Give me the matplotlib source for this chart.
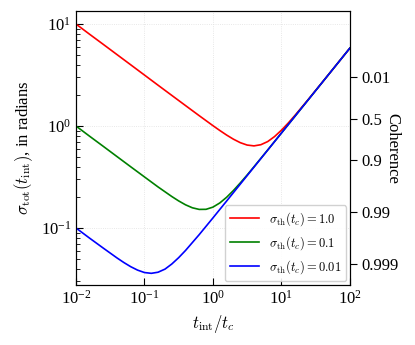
import numpy as np
import matplotlib
matplotlib.use("Agg")
import matplotlib.pyplot as plt

plt.rcParams["font.family"] = "serif"
plt.rcParams["font.serif"] = ["Liberation Serif", "DejaVu Serif"]
plt.rcParams["mathtext.fontset"] = "cm"

# values (x = t_int / t_c)
t_red = [0.01, 0.0158, 0.0251, 0.0398, 0.0631, 0.1, 0.158, 0.251, 0.398, 0.631,
         1.0, 1.259, 1.585, 1.995, 2.512, 3.162, 3.981, 5.012, 6.31, 7.943,
         10.0, 12.59, 15.85, 25.12, 39.81, 63.1, 100.0]
sig_red = [10.0, 7.94, 6.31, 5.01, 3.98, 3.16, 2.512, 1.995, 1.586, 1.262,
           1.008, 0.904, 0.815, 0.742, 0.686, 0.650, 0.638, 0.655, 0.703, 0.787,
           0.908, 1.068, 1.274, 1.844, 2.695, 3.952, 5.797]

t_green = [0.01, 0.0158, 0.0251, 0.0398, 0.0631, 0.1, 0.158, 0.251, 0.316, 0.398,
           0.501, 0.631, 0.794, 1.0, 1.259, 1.585, 1.995, 2.512, 3.162, 3.981,
           6.31, 10.0, 15.85, 25.12, 39.81, 63.1, 100.0]
sig_green = [1.0, 0.794, 0.631, 0.501, 0.398, 0.3168, 0.2526, 0.2034, 0.1842, 0.1687,
             0.1577, 0.1520, 0.1523, 0.160, 0.1757, 0.1998, 0.233, 0.2764, 0.3304, 0.3981,
             0.581, 0.8515, 1.249, 1.833, 2.691, 3.950, 5.797]

t_blue = [0.01, 0.0158, 0.0251, 0.0398, 0.0501, 0.0631, 0.0794, 0.1, 0.126, 0.158,
          0.2, 0.251, 0.316, 0.398, 0.631, 1.0, 1.585, 2.512, 3.981, 6.31,
          10.0, 15.85, 25.12, 39.81, 63.1, 100.0]
sig_blue = [0.1000, 0.0795, 0.0634, 0.0508, 0.0458, 0.0417, 0.0386, 0.03655, 0.0359, 0.0368,
            0.0395, 0.0443, 0.0511, 0.0601, 0.0860, 0.1253, 0.1835, 0.2691, 0.3950, 0.5797,
            0.8509, 1.249, 1.833, 2.691, 3.950, 5.797]

labels = [r"$\sigma_{\rm th}(t_c) = 1.0$", r"$\sigma_{\rm th}(t_c) = 0.1$",
          r"$\sigma_{\rm th}(t_c) = 0.01$"]

coherence_ticks = [0.01, 0.5, 0.9, 0.99, 0.999]
coherence_labels = ["0.01", "0.5", "0.9", "0.99", "0.999"]

fig = plt.figure(figsize=(4.15, 3.45), dpi=100)
ax = fig.add_axes([0.183, 0.174, 0.660, 0.794])

ax.loglog(t_red, sig_red, color="red", lw=1.2, label=labels[0])
ax.loglog(t_green, sig_green, color="green", lw=1.2, label=labels[1])
ax.loglog(t_blue, sig_blue, color="blue", lw=1.2, label=labels[2])

ax.set_xlim(1e-2, 1e2)
ax.set_ylim(0.0276, 13.4)
ax.grid(True, which="major", color="0.88", lw=0.6, ls=":")
ax.tick_params(which="both", direction="in", labelsize=12)
ax.tick_params(which="major", length=5)
ax.tick_params(which="minor", length=3)
ax.set_xlabel(r"$t_{\rm int}/t_c$", fontsize=12)
ax.set_ylabel(r"$\sigma_{\rm tot}(t_{\rm int})$, in radians", fontsize=12)
ax.legend(loc="lower right", fontsize=9, framealpha=0.9, edgecolor="0.8",
          borderaxespad=0.3, handlelength=2.3)

# right axis: coherence = exp(-sigma^2 / 2)
ax2 = ax.twinx()
ax2.set_yscale("log")
ax2.set_ylim(ax.get_ylim())
ax2.set_yticks([np.sqrt(-2 * np.log(c)) for c in coherence_ticks])
ax2.set_yticklabels(coherence_labels)
ax2.minorticks_off()
ax2.tick_params(direction="out", length=5, labelsize=12)
ax2.set_ylabel("Coherence", rotation=270, labelpad=1, fontsize=12)

fig.savefig("out.png", dpi=100)
